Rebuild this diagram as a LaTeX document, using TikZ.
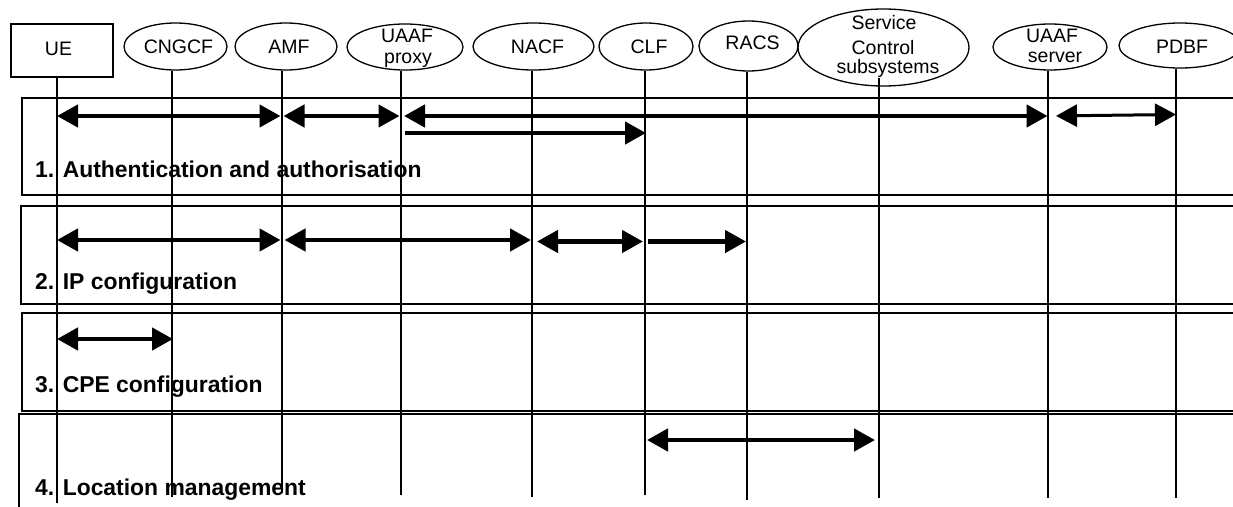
\documentclass[tikz,border=0pt]{standalone}
\usepackage{fontspec}
\setmainfont{Liberation Sans}
\usetikzlibrary{arrows.meta,shapes.geometric}
\begin{document}
\begin{tikzpicture}[x=1pt,y=-1pt,
  ent/.style={draw,ellipse,line width=1.3pt,inner sep=0pt},
  txt/.style={font=\fontsize{19.5}{21}\selectfont,inner sep=0pt,anchor=base},
  frame/.style={draw,line width=1.5pt},
  life/.style={line width=1.4pt},
  tipx/.tip={Triangle[length=21pt,width=22pt]},
  msg/.style={line width=4.5pt,tipx-tipx},
  msgr/.style={line width=4.5pt,-tipx},
  phase/.style={font=\fontsize{22.9}{26}\selectfont\bfseries,anchor=base west,inner sep=0pt}]
\clip (0,0) rectangle (1233,506);
\fill[white] (0,0) rectangle (1233,506);

% phase frames
\draw[frame] (1245,98) -- (22,98) -- (22,195) -- (1245,195);
\draw[frame] (1245,206) -- (21,206) -- (21,304) -- (1245,304);
\draw[frame] (1245,313) -- (22,313) -- (22,411) -- (1245,411);
\draw[frame] (1245,414) -- (19,414) -- (19,520);

% entities
\node[draw,rectangle,line width=1.3pt,minimum width=102pt,minimum height=53pt,inner sep=0pt] (ue) at (62,50.5) {};
\node[txt] (ue-t) at (58.5,55) {UE};
\node[ent,minimum width=103pt,minimum height=47pt] (cngcf) at (175.5,46.5) {};
\node[txt] (cngcf-t) at (178.5,53) {CNGCF};
\node[ent,minimum width=102pt,minimum height=47pt] (amf) at (286,46.5) {};
\node[txt] (amf-t) at (289,53) {AMF};
\node[ent,minimum width=116pt,minimum height=46pt] (uaafp) at (405,47) {};
\node[txt] (uaafp-t1) at (407,42) {UAAF};
\node[txt] (uaafp-t2) at (408,63) {proxy};
\node[ent,minimum width=121pt,minimum height=47pt] (nacf) at (533.5,46.5) {};
\node[txt] (nacf-t) at (537.5,53) {NACF};
\node[ent,minimum width=94pt,minimum height=47pt] (clf) at (646,46.5) {};
\node[txt] (clf-t) at (649,53) {CLF};
\node[ent,minimum width=99pt,minimum height=50pt] (racs) at (748.5,46) {};
\node[txt] (racs-t) at (752.5,49) {RACS};
\node[ent,minimum width=171pt,minimum height=77pt] (scs) at (883.5,47.5) {};
\node[txt] (scs-t1) at (884,29) {Service};
\node[txt] (scs-t2) at (883,54) {Control};
\node[txt] (scs-t3) at (888,73) {subsystems};
\node[ent,minimum width=114pt,minimum height=46pt] (uaafs) at (1050,47) {};
\node[txt] (uaafs-t1) at (1052,42) {UAAF};
\node[txt] (uaafs-t2) at (1055,62) {server};
\node[ent,minimum width=122pt,minimum height=45pt] (pdbf) at (1180,45.5) {};
\node[txt] (pdbf-t) at (1182,53) {PDBF};

% lifeline coordinates
\coordinate (L1) at (57,503);
\coordinate (L2) at (172,497);
\coordinate (L3) at (282,493);
\coordinate (L4) at (401,495);
\coordinate (L5) at (532,497);
\coordinate (L6) at (645,495);
\coordinate (L7) at (747,500);
\coordinate (L8) at (879,498);
\coordinate (L9) at (1048,498);
\coordinate (L10) at (1176,498);

% row coordinates
\coordinate (r1) at (0,116);
\coordinate (r1b) at (0,133);
\coordinate (r2) at (0,240);
\coordinate (r2b) at (0,241.5);
\coordinate (r3) at (0,339);
\coordinate (r4) at (0,440);

% messages
\draw[msg,shorten >=1.5pt] (L1 |- r1) -- (L3 |- r1);
\draw[msg,shorten <=1.5pt,shorten >=1.5pt] (L3 |- r1) -- (L4 |- r1);
\draw[msg,shorten <=3pt,shorten >=0.5pt] (L4 |- r1) -- (L9 |- r1);
\draw[line width=3pt,tipx-tipx,shorten <=8pt] (L9 |- r1) -- (L10 |- 0,114.5);
\draw[msgr,shorten <=4pt,shorten >=-1pt] (L4 |- r1b) -- (L6 |- r1b);

\draw[msg,shorten >=1.5pt] (L1 |- r2) -- (L3 |- r2);
\draw[msg,shorten <=2.5pt,shorten >=1pt] (L3 |- r2) -- (L5 |- r2);
\draw[msg,shorten <=5pt,shorten >=2pt] (L5 |- r2b) -- (L6 |- r2b);
\draw[msgr,shorten <=3pt,shorten >=1pt] (L6 |- r2b) -- (L7 |- r2b);

\draw[msg,shorten >=-1pt] (L1 |- r3) -- (L2 |- r3);

\draw[msg,shorten <=2pt,shorten >=4pt] (L6 |- r4) -- (L8 |- r4);

% phase labels
\node[phase] (p1) at (35,177) {1. Authentication and authorisation};
\node[phase] (p2) at (35,289) {2. IP configuration};
\node[phase] (p3) at (35,392) {3. CPE configuration};
\node[phase] (p4) at (35,495) {4. Location management};

% lifelines (drawn over the labels)
\draw[life] (ue.south -| L1) -- (L1);
\draw[life] (cngcf.south -| L2) -- (L2);
\draw[life] (amf.south -| L3) -- (L3);
\draw[life] (uaafp.south -| L4) -- (L4);
\draw[life] (nacf.south -| L5) -- (L5);
\draw[life] (clf.south -| L6) -- (L6);
\draw[life] (racs.south -| L7) -- (L7);
\draw[life] ([yshift=9pt]scs.south -| L8) -- (L8);
\draw[life] (uaafs.south -| L9) -- (L9);
\draw[life] (pdbf.south -| L10) -- (L10);
\end{tikzpicture}
\end{document}
